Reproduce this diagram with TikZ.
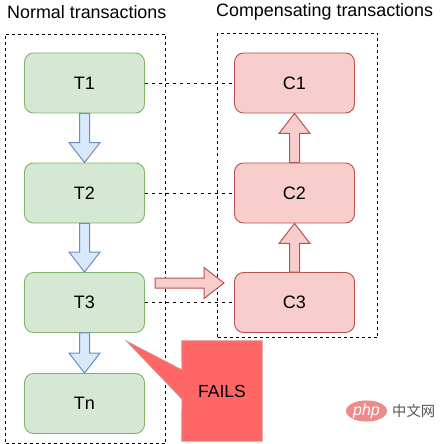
\documentclass[tikz,border=0pt]{standalone}
\usepackage{fontspec}
\setmainfont{Liberation Sans}
\newfontfamily\cjkfont{Noto Sans CJK SC}
\usetikzlibrary{calc,shapes.geometric}
\definecolor{gfill}{HTML}{D5E8D4}\definecolor{gline}{HTML}{82B366}
\definecolor{bfill}{HTML}{DAE8FC}\definecolor{bline}{HTML}{6C8EBF}
\definecolor{rfill}{HTML}{F8CECC}\definecolor{rline}{HTML}{B85450}
\definecolor{failfill}{HTML}{FF6666}\definecolor{failline}{HTML}{D98A8A}
\definecolor{logofill}{HTML}{EE8A8A}\definecolor{wmgray}{HTML}{555555}
\tikzset{
  box/.style={rounded corners=9pt,minimum width=120pt,minimum height=60pt,inner sep=0pt,line width=0.9pt,font=\fontsize{18}{20}\selectfont},
  gbox/.style={box,draw=gline,fill=gfill},
  rbox/.style={box,draw=rline,fill=rfill},
  group/.style={draw=black,line width=0.8pt,dash pattern=on 3pt off 3pt,minimum width=160pt,inner sep=0pt},
  link/.style={draw=black,line width=0.8pt,dash pattern=on 3.5pt off 3.5pt},
  title/.style={inner sep=0pt,font=\fontsize{17.9}{20}\selectfont},
  barrow/.style={draw=bline,fill=bfill,line width=1pt,line join=miter},
  rarrow/.style={draw=rline,fill=rfill,line width=1pt,line join=miter}
}
\newcommand{\blockarrow}[3]{%
  \path ($(#3)!20pt!(#2)$) coordinate (hb);
  \draw[#1] ($(#2)!5pt!90:(#3)$) -- ($(hb)!5pt!90:(#3)$) -- ($(hb)!15.5pt!90:(#3)$) -- (#3)
    -- ($(hb)!15.5pt!-90:(#3)$) -- ($(hb)!5pt!-90:(#3)$) -- ($(#2)!5pt!-90:(#3)$) -- cycle;}
\begin{document}
\begin{tikzpicture}[x=1pt,y=-1pt]
\useasboundingbox (0,0) rectangle (445,444);
\fill[white] (0,0) rectangle (445,444);
\node[title,anchor=west] (t1) at (7,12) {Normal transactions};
\node[title,anchor=west] (t2) at (216,12) {Compensating transactions};
\node[group,minimum height=409.5pt] (gl) at (85.5,238.75) {};
\node[group,minimum height=304pt] (gr) at (297.5,185.5) {};
\node[gbox] (T1) at (84.5,83) {T1};
\node[gbox] (T2) at (84.5,193) {T2};
\node[gbox] (T3) at (84.5,302.5) {T3};
\node[gbox] (Tn) at (84.5,403.5) {Tn};
\node[rbox] (C1) at (294.5,83) {C1};
\node[rbox] (C2) at (294.5,193) {C2};
\node[rbox] (C3) at (294.5,302.5) {C3};
\draw[link] (T1) -- (C1);
\draw[link] (T2) -- (C2);
\draw[link] (T3) -- (C3);
\blockarrow{barrow}{T1.south}{T2.north}
\blockarrow{barrow}{T2.south}{T3.north}
\blockarrow{barrow}{T3.south}{Tn.north}
\blockarrow{rarrow}{C2.north}{C1.south}
\blockarrow{rarrow}{C3.north}{C2.south}
\coordinate (ra) at (155,283);
\coordinate (rb) at (224,283);
\blockarrow{rarrow}{ra}{rb}
\node[minimum width=80pt,minimum height=100pt,inner sep=0pt] (F) at (222,391) {};
\coordinate (ftip) at (127,341.5);
\draw[draw=failline,fill=failfill,line width=0.9pt,line join=miter] (F.north west) -- (F.north east) -- (F.south east) -- (F.south west) -- (182,399) -- (ftip) -- (182,370) -- cycle;
\node[font=\fontsize{17.5}{20}\selectfont,inner sep=0pt] (ftext) at (F.center) {FAILS};
\node[ellipse,fill=logofill,minimum width=41pt,minimum height=21pt,inner sep=0pt,text=white,font=\fontsize{16}{16}\selectfont\itshape] (php) at (366.5,411) {php};
\node[anchor=west,inner sep=0pt,text=wmgray,font=\fontsize{14.3}{14}\selectfont\cjkfont] (cn) at (392,411) {中文网};
\end{tikzpicture}
\end{document}
